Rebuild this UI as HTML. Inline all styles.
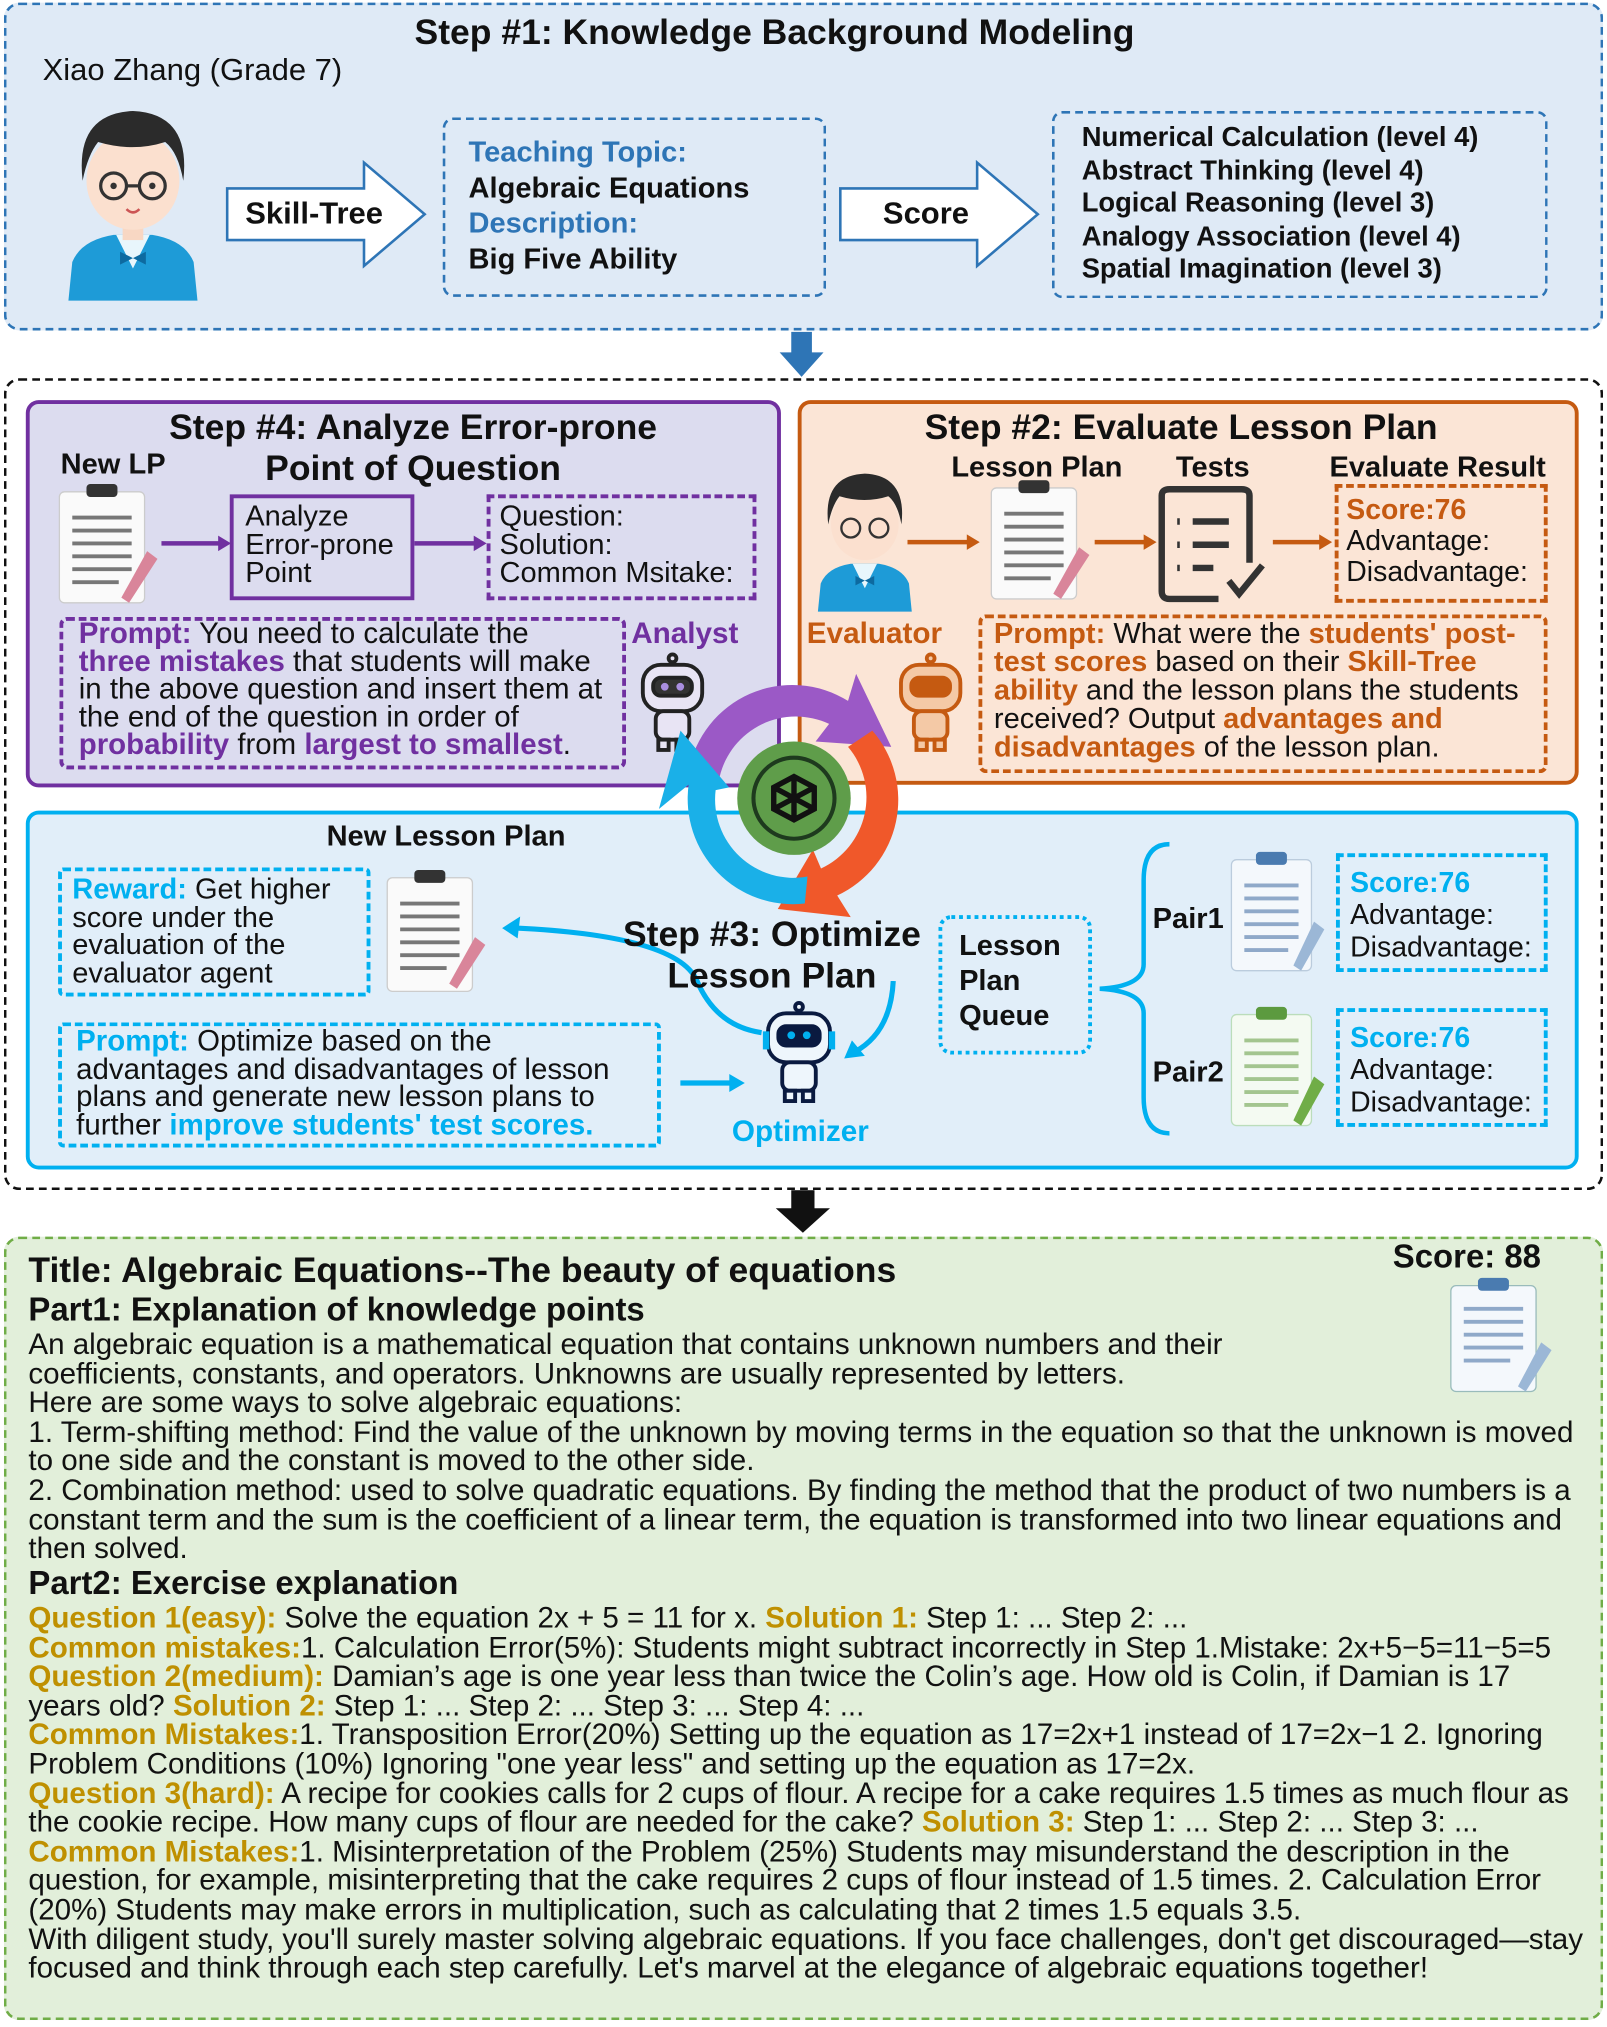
<!DOCTYPE html>
<html><head><meta charset="utf-8"><style>
*{margin:0;padding:0;box-sizing:border-box}
body{width:1607px;height:2026px;background:#fff;overflow:hidden;font-family:"Liberation Sans",Arial,sans-serif;color:#111}
#w{position:absolute;left:0;top:0;width:1245px;height:1570px;transform:scale(1.2908);transform-origin:0 0}
.a{position:absolute}
.b{font-weight:bold}
.t{font-size:27.5px;font-weight:bold;text-align:center;line-height:32px}
.nw{white-space:nowrap}
.pu{color:#7030a0;font-weight:bold}
.or{color:#c55a11;font-weight:bold}
.bl{color:#00b0f0;font-weight:bold}
.gd{color:#bf9000;font-weight:bold}
.sb{color:#2e75b6;font-weight:bold}
</style></head><body><div id="w">

<!-- Step 1 -->
<div class="a" style="left:3px;top:2px;width:1239px;height:254px;border:2.5px dashed #2e75b6;border-radius:12px;background:#dfeaf6"></div>
<div class="a t nw" style="left:300px;top:9px;width:600px">Step #1: Knowledge Background Modeling</div>
<div class="a nw" style="left:33px;top:41px;font-size:24px">Xiao Zhang (Grade 7)</div>
<svg class="a" style="left:48px;top:78px" width="110" height="155" viewBox="0 0 110 155">
<path d="M5 155 L8 125 Q15 108 40 104 L70 104 Q95 108 102 125 L105 155Z" fill="#1e9bd7"/>
<path d="M42 104 L55 130 L68 104Z" fill="#e8f6fc"/>
<path d="M45 117 L55 122 L65 117 L65 127 L55 122 L45 127Z" fill="#0d6aa0"/>
<rect x="47" y="88" width="16" height="20" fill="#f8d7c3"/>
<ellipse cx="55" cy="62" rx="36" ry="38" fill="#fbe0cf"/>
<path d="M16 62 Q10 10 55 8 Q100 10 94 62 Q90 40 80 32 Q55 40 28 32 Q20 42 16 62Z" fill="#2b2b2b"/>
<circle cx="40" cy="66" r="10" fill="none" stroke="#333" stroke-width="2.5"/><circle cx="70" cy="66" r="10" fill="none" stroke="#333" stroke-width="2.5"/>
<line x1="50" y1="66" x2="60" y2="66" stroke="#333" stroke-width="2.5"/>
<circle cx="40" cy="66" r="2.5" fill="#333"/><circle cx="70" cy="66" r="2.5" fill="#333"/>
<path d="M50 84 Q55 89 60 84" stroke="#c55" stroke-width="2" fill="none"/>
</svg>
<svg class="a" style="left:174px;top:124px" width="160" height="84"><path d="M2 22 H108 V2 L155 42 L108 82 V62 H2Z" fill="#fff" stroke="#2e75b6" stroke-width="2"/></svg>
<div class="a b nw" style="left:190px;top:152px;font-size:24px">Skill-Tree</div>
<div class="a" style="left:343px;top:91px;width:297px;height:139px;border:2.5px dashed #2e75b6;border-radius:8px"></div>
<div class="a nw" style="left:363px;top:104px;font-size:22.5px;line-height:27.5px"><span class="sb">Teaching Topic:</span><br><b>Algebraic Equations</b><br><span class="sb">Description:</span><br><b>Big Five Ability</b></div>
<svg class="a" style="left:649px;top:124px" width="160" height="84"><path d="M2 22 H108 V2 L155 42 L108 82 V62 H2Z" fill="#fff" stroke="#2e75b6" stroke-width="2"/></svg>
<div class="a b nw" style="left:684px;top:152px;font-size:24px">Score</div>
<div class="a" style="left:815px;top:86px;width:384px;height:145px;border:2.5px dashed #2e75b6;border-radius:8px"></div>
<div class="a b nw" style="left:838px;top:94px;font-size:21.2px;line-height:25.5px">Numerical Calculation (level 4)<br>Abstract Thinking (level 4)<br>Logical Reasoning (level 3)<br>Analogy Association (level 4)<br>Spatial Imagination (level 3)</div>
<svg class="a" style="left:603px;top:257px" width="36" height="36"><path d="M10 0 H26 V16 H35 L18 35 L1 16 H10Z" fill="#2e75b6"/></svg>

<!-- outer dashed -->
<div class="a" style="left:3px;top:293px;width:1239px;height:629px;border:2.5px dashed #111;border-radius:12px"></div>

<!-- purple panel -->
<div class="a" style="left:20px;top:310px;width:585px;height:300px;border:3px solid #7030a0;border-radius:10px;background:#dcdcef"></div>
<div class="a t nw" style="left:60px;top:315px;width:520px">Step #4: Analyze Error-prone<br>Point of Question</div>
<div class="a b nw" style="left:47px;top:347px;font-size:22.5px">New LP</div>
<svg class="a" style="left:42px;top:375px" width="85" height="95"><rect x="4" y="6" width="66" height="86" rx="4" fill="#fafafa" stroke="#ccc"/><rect x="25" y="0" width="24" height="10" rx="3" fill="#333"/><g stroke="#777" stroke-width="3"><line x1="14" y1="26" x2="60" y2="26"/><line x1="14" y1="36" x2="60" y2="36"/><line x1="14" y1="46" x2="60" y2="46"/><line x1="14" y1="56" x2="60" y2="56"/><line x1="14" y1="66" x2="60" y2="66"/><line x1="14" y1="76" x2="50" y2="76"/></g><path d="M72 52 L80 58 L58 92 L52 88Z" fill="#d9859a"/></svg>
<svg class="a" style="left:125px;top:413px" width="55" height="16"><line x1="0" y1="8" x2="46" y2="8" stroke="#7030a0" stroke-width="3.5"/><path d="M44 2 L54 8 L44 14Z" fill="#7030a0"/></svg>
<div class="a" style="left:178px;top:383px;width:143px;height:82px;border:3px solid #7030a0"></div>
<div class="a nw" style="left:190px;top:389px;font-size:22.5px;line-height:22px">Analyze<br>Error-prone<br>Point</div>
<svg class="a" style="left:321px;top:413px" width="57" height="16"><line x1="0" y1="8" x2="48" y2="8" stroke="#7030a0" stroke-width="3.5"/><path d="M46 2 L56 8 L46 14Z" fill="#7030a0"/></svg>
<div class="a" style="left:377px;top:383px;width:209px;height:82px;border:3px dashed #7030a0"></div>
<div class="a nw" style="left:387px;top:389px;font-size:22.5px;line-height:22px">Question:<br>Solution:<br>Common Msitake:</div>
<div class="a" style="left:46px;top:478px;width:439px;height:118px;border:3px dashed #7030a0;border-radius:6px"></div>
<div class="a nw" style="left:61px;top:480px;font-size:22.8px;line-height:21.5px"><span class="pu">Prompt:</span> You need to calculate the<br><span class="pu">three mistakes</span> that students will make<br>in the above question and insert them at<br>the end of the question in order of<br><span class="pu">probability</span> from <span class="pu">largest to smallest</span>.</div>
<div class="a pu nw" style="left:489px;top:477px;font-size:23px">Analyst</div>
<svg class="a" style="left:490px;top:505px" width="62" height="80"><g fill="#e8e4f4" stroke="#222" stroke-width="3"><circle cx="31" cy="5" r="3"/><rect x="8" y="10" width="46" height="36" rx="14"/><rect x="16" y="20" width="30" height="14" rx="6" fill="#333"/><rect x="18" y="46" width="26" height="22" rx="6"/><rect x="20" y="68" width="8" height="8"/><rect x="34" y="68" width="8" height="8"/></g><circle cx="25" cy="27" r="3" fill="#a98ee0"/><circle cx="37" cy="27" r="3" fill="#a98ee0"/></svg>

<!-- orange panel -->
<div class="a" style="left:618px;top:310px;width:605px;height:298px;border:3px solid #c55a11;border-radius:10px;background:#fbe5d6"></div>
<div class="a t nw" style="left:660px;top:315px;width:510px">Step #2: Evaluate Lesson Plan</div>
<div class="a b nw" style="left:737px;top:349px;font-size:22.5px">Lesson Plan</div>
<div class="a b nw" style="left:911px;top:349px;font-size:22.5px">Tests</div>
<div class="a b nw" style="left:1030px;top:349px;font-size:22.5px">Evaluate Result</div>
<svg class="a" style="left:630px;top:360px" width="80" height="115" viewBox="0 0 110 155"><path d="M5 155 L8 125 Q15 108 40 104 L70 104 Q95 108 102 125 L105 155Z" fill="#1e9bd7"/><path d="M42 104 L55 130 L68 104Z" fill="#e8f6fc"/><path d="M45 117 L55 122 L65 117 L65 127 L55 122 L45 127Z" fill="#0d6aa0"/><ellipse cx="55" cy="62" rx="36" ry="38" fill="#fbe0cf"/><path d="M16 62 Q10 10 55 8 Q100 10 94 62 Q90 40 80 32 Q55 40 28 32 Q20 42 16 62Z" fill="#2b2b2b"/><circle cx="40" cy="66" r="10" fill="none" stroke="#333" stroke-width="2.5"/><circle cx="70" cy="66" r="10" fill="none" stroke="#333" stroke-width="2.5"/></svg>
<svg class="a" style="left:703px;top:412px" width="58" height="16"><line x1="0" y1="8" x2="48" y2="8" stroke="#c55a11" stroke-width="3.5"/><path d="M46 2 L56 8 L46 14Z" fill="#c55a11"/></svg>
<svg class="a" style="left:764px;top:372px" width="85" height="95"><rect x="4" y="6" width="66" height="86" rx="4" fill="#fafafa" stroke="#ccc"/><rect x="25" y="0" width="24" height="10" rx="3" fill="#333"/><g stroke="#777" stroke-width="3"><line x1="14" y1="26" x2="60" y2="26"/><line x1="14" y1="36" x2="60" y2="36"/><line x1="14" y1="46" x2="60" y2="46"/><line x1="14" y1="56" x2="60" y2="56"/><line x1="14" y1="66" x2="60" y2="66"/><line x1="14" y1="76" x2="50" y2="76"/></g><path d="M72 52 L80 58 L58 92 L52 88Z" fill="#d9859a"/></svg>
<svg class="a" style="left:848px;top:412px" width="50" height="16"><line x1="0" y1="8" x2="40" y2="8" stroke="#c55a11" stroke-width="3.5"/><path d="M38 2 L48 8 L38 14Z" fill="#c55a11"/></svg>
<svg class="a" style="left:896px;top:376px" width="85" height="92"><path d="M48 88 H10 Q4 88 4 82 V8 Q4 3 10 3 H66 Q72 3 72 8 V60" fill="none" stroke="#333" stroke-width="5"/><g stroke="#333" stroke-width="5"><line x1="16" y1="28" x2="18" y2="28"/><line x1="28" y1="28" x2="56" y2="28"/><line x1="16" y1="46" x2="18" y2="46"/><line x1="28" y1="46" x2="56" y2="46"/><line x1="16" y1="64" x2="18" y2="64"/><line x1="28" y1="64" x2="44" y2="64"/></g><path d="M56 74 L64 84 L82 62" fill="none" stroke="#333" stroke-width="5"/></svg>
<svg class="a" style="left:986px;top:412px" width="48" height="16"><line x1="0" y1="8" x2="38" y2="8" stroke="#c55a11" stroke-width="3.5"/><path d="M36 2 L46 8 L36 14Z" fill="#c55a11"/></svg>
<div class="a" style="left:1034px;top:375px;width:165px;height:92px;border:3px dashed #c55a11"></div>
<div class="a nw" style="left:1043px;top:383px;font-size:22px;line-height:24px"><span class="or">Score:76</span><br>Advantage:<br>Disadvantage:</div>
<div class="a or nw" style="left:625px;top:477px;font-size:23px">Evaluator</div>
<svg class="a" style="left:690px;top:505px" width="62" height="80"><g fill="#f4c9a6" stroke="#c55a11" stroke-width="3"><circle cx="31" cy="5" r="3"/><rect x="8" y="10" width="46" height="36" rx="14"/><rect x="16" y="20" width="30" height="14" rx="6" fill="#c55a11"/><rect x="18" y="46" width="26" height="22" rx="6"/><rect x="20" y="68" width="8" height="8"/><rect x="34" y="68" width="8" height="8"/></g></svg>
<div class="a" style="left:758px;top:476px;width:441px;height:123px;border:3px dashed #c55a11;border-radius:6px"></div>
<div class="a nw" style="left:770px;top:480px;font-size:22.5px;line-height:22px"><span class="or">Prompt:</span> What were the <span class="or">students' post-</span><br><span class="or">test scores</span> based on their <span class="or">Skill-Tree</span><br><span class="or">ability</span> and the lesson plans the students<br>received? Output <span class="or">advantages and</span><br><span class="or">disadvantages</span> of the lesson plan.</div>

<!-- blue panel -->
<div class="a" style="left:20px;top:628px;width:1203px;height:278px;border:3px solid #00b0f0;border-radius:10px;background:#e1eef9"></div>

<!-- cycle -->
<svg class="a" style="left:500px;top:505px" width="225" height="210" viewBox="0 0 215 200">
<path d="M32 88 A78 78 0 0 1 150 36 L156 16 L182 70 L126 66 L136 53 A58 58 0 0 0 55 92Z" fill="#9b59c6"/>
<path d="M168 58 A78 78 0 0 1 142 180 L152 196 L98 190 L124 146 L130 160 A58 58 0 0 0 150 70Z" fill="#f0582a"/>
<path d="M118 186 A78 78 0 0 1 32 98 L10 116 L26 58 L62 100 L52 102 A58 58 0 0 0 120 166Z" fill="#1ab0e8"/>
<circle cx="110" cy="108" r="42" fill="#5f9d4a"/>
<circle cx="110" cy="108" r="30" fill="none" stroke="#1e3a1e" stroke-width="3"/>
<path d="M95 100 L110 92 L125 100 L125 116 L110 124 L95 116Z M110 92 V124 M95 100 L125 116 M125 100 L95 116" stroke="#111" stroke-width="4" fill="none"/>
</svg>

<div class="a b nw" style="left:253px;top:635px;font-size:22.5px">New Lesson Plan</div>
<div class="a" style="left:45px;top:672px;width:242px;height:100px;border:3px dashed #00b0f0;border-radius:4px"></div>
<div class="a nw" style="left:56px;top:678px;font-size:22.5px;line-height:21.5px"><span class="bl">Reward:</span> Get higher<br>score under the<br>evaluation of the<br>evaluator agent</div>
<svg class="a" style="left:296px;top:672px" width="85" height="100"><rect x="4" y="8" width="66" height="88" rx="4" fill="#fafafa" stroke="#ccc"/><rect x="25" y="2" width="24" height="10" rx="3" fill="#333"/><g stroke="#777" stroke-width="3"><line x1="14" y1="28" x2="60" y2="28"/><line x1="14" y1="38" x2="60" y2="38"/><line x1="14" y1="48" x2="60" y2="48"/><line x1="14" y1="58" x2="60" y2="58"/><line x1="14" y1="68" x2="60" y2="68"/><line x1="14" y1="78" x2="50" y2="78"/></g><path d="M72 54 L80 60 L58 94 L52 90Z" fill="#d9859a"/></svg>
<svg class="a" style="left:385px;top:705px" width="230" height="110"><path d="M205 95 Q170 90 155 55 Q140 20 15 14" fill="none" stroke="#00b0f0" stroke-width="4"/><path d="M4 14 L18 5 L16 22Z" fill="#00b0f0"/></svg>
<svg class="a" style="left:650px;top:760px" width="50" height="65"><path d="M42 0 Q40 40 12 55" fill="none" stroke="#00b0f0" stroke-width="4"/><path d="M4 60 L10 46 L20 58Z" fill="#00b0f0"/></svg>
<div class="a t nw" style="left:478px;top:708px;width:240px">Step #3: Optimize<br>Lesson Plan</div>
<div class="a" style="left:727px;top:709px;width:119px;height:108px;border:3px dotted #00b0f0;border-radius:10px"></div>
<div class="a b nw" style="left:743px;top:719px;font-size:22.5px;line-height:27px">Lesson<br>Plan<br>Queue</div>
<div class="a" style="left:45px;top:792px;width:467px;height:97px;border:3px dashed #00b0f0;border-radius:4px"></div>
<div class="a nw" style="left:59px;top:796px;font-size:22.8px;line-height:21.5px"><span class="bl">Prompt:</span> Optimize based on the<br>advantages and disadvantages of lesson<br>plans and generate new lesson plans to<br>further <span class="bl">improve students' test scores.</span></div>
<svg class="a" style="left:527px;top:831px" width="52" height="16"><line x1="0" y1="8" x2="40" y2="8" stroke="#00b0f0" stroke-width="4"/><path d="M38 1 L50 8 L38 15Z" fill="#00b0f0"/></svg>
<svg class="a" style="left:586px;top:775px" width="66" height="82"><g fill="#eef6fc" stroke="#0a1a40" stroke-width="3"><circle cx="33" cy="5" r="3"/><rect x="9" y="10" width="48" height="38" rx="14"/><rect x="17" y="20" width="32" height="15" rx="6" fill="#0a1a40"/><rect x="20" y="48" width="26" height="22" rx="6"/><rect x="22" y="70" width="8" height="8"/><rect x="36" y="70" width="8" height="8"/></g><circle cx="27" cy="27" r="3" fill="#00b0f0"/><circle cx="39" cy="27" r="3" fill="#00b0f0"/><rect x="5" y="24" width="5" height="14" fill="#00b0f0"/><rect x="56" y="24" width="5" height="14" fill="#00b0f0"/></svg>
<div class="a bl nw" style="left:567px;top:863px;font-size:23px">Optimizer</div>
<svg class="a" style="left:848px;top:652px" width="62" height="228"><path d="M58 2 Q38 2 38 30 V95 Q38 112 4 114 Q38 116 38 133 V198 Q38 226 58 226" fill="none" stroke="#00b0f0" stroke-width="3.5"/></svg>
<div class="a b nw" style="left:893px;top:699px;font-size:22.5px">Pair1</div>
<div class="a b nw" style="left:893px;top:818px;font-size:22.5px">Pair2</div>
<svg class="a" style="left:950px;top:658px" width="80" height="96"><rect x="4" y="8" width="62" height="86" rx="4" fill="#f4f8fc" stroke="#bcd"/><rect x="23" y="2" width="24" height="10" rx="3" fill="#4a7bb0"/><g stroke="#8fa9c9" stroke-width="3"><line x1="14" y1="28" x2="56" y2="28"/><line x1="14" y1="38" x2="56" y2="38"/><line x1="14" y1="48" x2="56" y2="48"/><line x1="14" y1="58" x2="56" y2="58"/><line x1="14" y1="68" x2="56" y2="68"/><line x1="14" y1="78" x2="48" y2="78"/></g><path d="M68 56 L76 62 L58 94 L52 90Z" fill="#9bb7d6"/></svg>
<svg class="a" style="left:950px;top:778px" width="80" height="96"><rect x="4" y="8" width="62" height="86" rx="4" fill="#f4faf2" stroke="#bdb"/><rect x="23" y="2" width="24" height="10" rx="3" fill="#5c9a3f"/><g stroke="#a3c58f" stroke-width="3"><line x1="14" y1="28" x2="56" y2="28"/><line x1="14" y1="38" x2="56" y2="38"/><line x1="14" y1="48" x2="56" y2="48"/><line x1="14" y1="58" x2="56" y2="58"/><line x1="14" y1="68" x2="56" y2="68"/><line x1="14" y1="78" x2="48" y2="78"/></g><path d="M68 56 L76 62 L58 94 L52 90Z" fill="#70ad47"/></svg>
<div class="a" style="left:1035px;top:661px;width:164px;height:92px;border:3px dashed #00b0f0"></div>
<div class="a nw" style="left:1046px;top:671px;font-size:22px;line-height:25px"><span class="bl">Score:76</span><br>Advantage:<br>Disadvantage:</div>
<div class="a" style="left:1035px;top:781px;width:164px;height:92px;border:3px dashed #00b0f0"></div>
<div class="a nw" style="left:1046px;top:791px;font-size:22px;line-height:25px"><span class="bl">Score:76</span><br>Advantage:<br>Disadvantage:</div>

<svg class="a" style="left:600px;top:922px" width="44" height="34"><path d="M13 0 H31 V14 H43 L22 33 L1 14 H13Z" fill="#111"/></svg>

<!-- bottom green -->
<div class="a" style="left:3px;top:958px;width:1239px;height:607px;border:2.5px dashed #70ad47;border-radius:12px;background:#e2efda"></div>
<div class="a b nw" style="left:22px;top:968px;font-size:27.5px">Title: Algebraic Equations--The beauty of equations</div>
<div class="a b nw" style="left:1079px;top:960px;font-size:25.5px">Score: 88</div>
<svg class="a" style="left:1120px;top:988px" width="90" height="92"><rect x="4" y="8" width="66" height="82" rx="4" fill="#f4f8fc" stroke="#9bb"/><rect x="25" y="2" width="24" height="10" rx="3" fill="#4a7bb0"/><g stroke="#8fa9c9" stroke-width="3"><line x1="14" y1="26" x2="60" y2="26"/><line x1="14" y1="36" x2="60" y2="36"/><line x1="14" y1="46" x2="60" y2="46"/><line x1="14" y1="56" x2="60" y2="56"/><line x1="14" y1="66" x2="50" y2="66"/></g><path d="M74 52 L82 58 L62 90 L56 86Z" fill="#9bb7d6"/></svg>
<div class="a b nw" style="left:22px;top:1001px;font-size:25.5px">Part1: Explanation of knowledge points</div>
<div class="a nw" style="left:22px;top:1030px;font-size:22.9px;line-height:22.6px">An algebraic equation is a mathematical equation that contains unknown numbers and their<br>coefficients, constants, and operators. Unknowns are usually represented by letters.<br>Here are some ways to solve algebraic equations:<br>1. Term-shifting method: Find the value of the unknown by moving terms in the equation so that the unknown is moved<br>to one side and the constant is moved to the other side.<br>2. Combination method: used to solve quadratic equations. By finding the method that the product of two numbers is a<br>constant term and the sum is the coefficient of a linear term, the equation is transformed into two linear equations and<br>then solved.</div>
<div class="a b nw" style="left:22px;top:1213px;font-size:25.5px">Part2: Exercise explanation</div>
<div class="a nw" style="left:22px;top:1242px;font-size:22.9px;line-height:22.6px"><span class="gd">Question 1(easy):</span> Solve the equation 2x + 5 = 11 for x. <span class="gd">Solution 1:</span> Step 1: ... Step 2: ...<br><span class="gd">Common mistakes:</span>1. Calculation Error(5%): Students might subtract incorrectly in Step 1.Mistake: 2x+5−5=11−5=5<br><span class="gd">Question 2(medium):</span> Damian’s age is one year less than twice the Colin’s age. How old is Colin, if Damian is 17<br>years old? <span class="gd">Solution 2:</span> Step 1: ... Step 2: ... Step 3: ... Step 4: ...<br><span class="gd">Common Mistakes:</span>1. Transposition Error(20%) Setting up the equation as 17=2x+1 instead of 17=2x−1 2. Ignoring<br>Problem Conditions (10%) Ignoring "one year less" and setting up the equation as 17=2x.<br><span class="gd">Question 3(hard):</span> A recipe for cookies calls for 2 cups of flour. A recipe for a cake requires 1.5 times as much flour as<br>the cookie recipe. How many cups of flour are needed for the cake? <span class="gd">Solution 3:</span> Step 1: ...  Step 2: ... Step 3: ...<br><span class="gd">Common Mistakes:</span>1. Misinterpretation of the Problem (25%) Students may misunderstand the description in the<br>question, for example, misinterpreting that the cake requires 2 cups of flour instead of 1.5 times. 2. Calculation Error<br>(20%) Students may make errors in multiplication, such as calculating that 2 times 1.5 equals 3.5.<br>With diligent study, you'll surely master solving algebraic equations. If you face challenges, don't get discouraged—stay<br>focused and think through each step carefully. Let's marvel at the elegance of algebraic equations together!</div>

</div></body></html>
